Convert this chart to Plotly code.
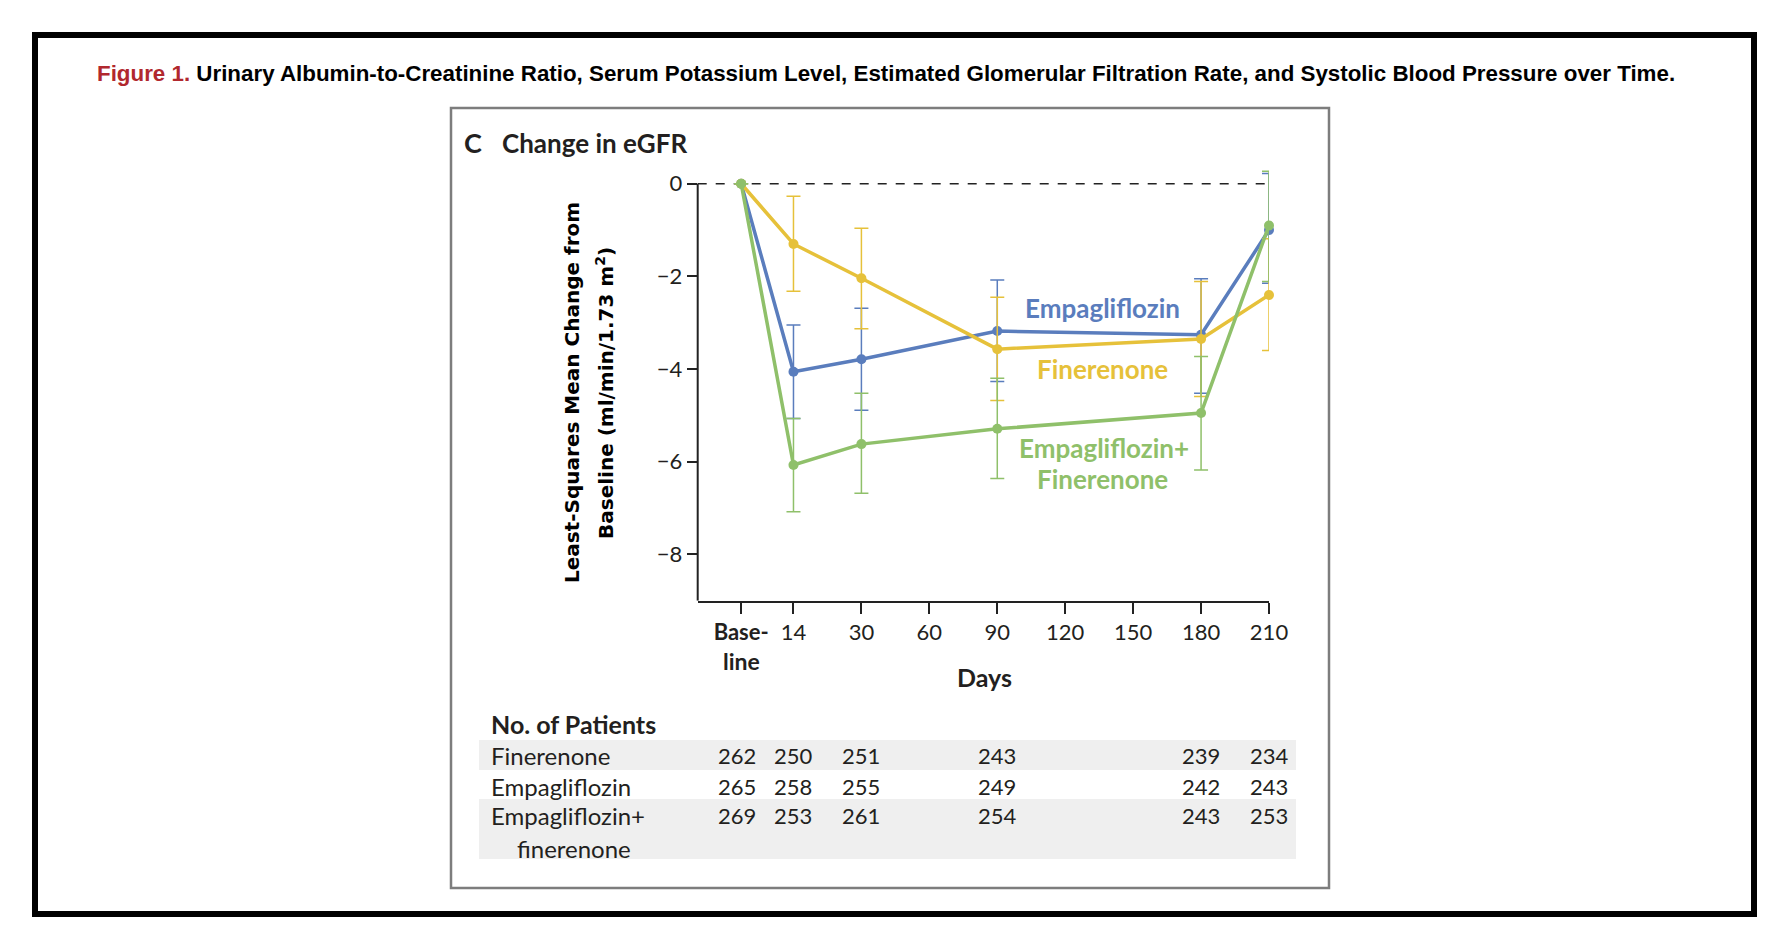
import plotly.graph_objects as go

# ---------------- data ----------------
visit_labels = ["Baseline", "14", "30", "90", "180", "210"]
axis_tick_labels = ["Base-", "14", "30", "60", "90", "120", "150", "180", "210"]

fin_mean = [0, -1.30, -2.04, -3.57, -3.35, -2.40]
fin_upper = [0, -0.27, -0.96, -2.45, -2.11, -1.19]
fin_lower = [0, -2.32, -3.13, -4.68, -4.59, -3.60]

emp_mean = [0, -4.06, -3.79, -3.18, -3.26, -1.00]
emp_upper = [0, -3.05, -2.69, -2.08, -2.05, 0.22]
emp_lower = [0, -5.07, -4.89, -4.27, -4.52, -2.15]

combo_mean = [0, -6.07, -5.62, -5.29, -4.95, -0.90]
combo_upper = [0, -5.07, -4.52, -4.20, -3.73, 0.27]
combo_lower = [0, -7.08, -6.68, -6.36, -6.18, -2.11]

fin_n = [262, 250, 251, 243, 239, 234]
emp_n = [265, 258, 255, 249, 242, 243]
combo_n = [269, 253, 261, 254, 243, 253]

y_ticks = [0, -2, -4, -6, -8]

# ---------------- layout helpers ----------------
W, H = 1766, 930
# axis position of each tick label (baseline is closer to day 14)
tick_pos = {"Base-": 0, "14": 0.77, "30": 1.77, "60": 2.77, "90": 3.77,
            "120": 4.77, "150": 5.77, "180": 6.77, "210": 7.77}
visit_pos_map = {"Baseline": 0, "14": 0.77, "30": 1.77, "90": 3.77,
                 "180": 6.77, "210": 7.77}
visit_x = [visit_pos_map[v] for v in visit_labels]


def px(x):
    return x / W


def py(y):
    return 1 - y / H


BLUE = "#5a7dbd"
YELLOW = "#e6c13a"
GREEN = "#8fc06a"
INK = "#231f20"
FONT = "Lato"

fig = go.Figure()


def add_series(mean, upper, lower, color, name):
    fig.add_trace(go.Scatter(
        x=visit_x, y=mean, mode="lines+markers", name=name,
        line=dict(color=color, width=3.5),
        marker=dict(color=color, size=10),
        error_y=dict(type="data", symmetric=False,
                     array=[u - m for u, m in zip(upper, mean)],
                     arrayminus=[m - l for m, l in zip(mean, lower)],
                     color=color, thickness=1.5, width=7),
        showlegend=False, cliponaxis=False,
    ))


add_series(emp_mean, emp_upper, emp_lower, BLUE, "Empagliflozin")
add_series(fin_mean, fin_upper, fin_lower, YELLOW, "Finerenone")
add_series(combo_mean, combo_upper, combo_lower, GREEN, "Empagliflozin+Finerenone")

shapes = []
# outer black frame
shapes.append(dict(type="rect", xref="paper", yref="paper",
                   x0=px(27), x1=px(1746), y0=py(27), y1=py(906),
                   line=dict(color="black", width=6), layer="below"))
# panel frame
shapes.append(dict(type="rect", xref="paper", yref="paper",
                   x0=px(443), x1=px(1321), y0=py(100), y1=py(880),
                   line=dict(color="#7d7d7d", width=2.5), layer="below"))
# table row shading
shapes.append(dict(type="rect", xref="paper", yref="paper",
                   x0=px(471), x1=px(1288), y0=py(732), y1=py(762),
                   fillcolor="#efefef", line=dict(width=0), layer="below"))
shapes.append(dict(type="rect", xref="paper", yref="paper",
                   x0=px(471), x1=px(1288), y0=py(791), y1=py(851),
                   fillcolor="#efefef", line=dict(width=0), layer="below"))
# dashed zero reference
shapes.append(dict(type="line", xref="x domain", yref="y",
                   x0=0, x1=1, y0=0, y1=0,
                   line=dict(color="#222222", width=1.6, dash="dash"), layer="below"))
# y axis line (from 0 down to the bottom of the axis)
shapes.append(dict(type="line", xref="x domain", yref="y",
                   x0=0, x1=0, y0=-9.0, y1=0,
                   line=dict(color="#222222", width=2)))

annotations = []


def ann(text, x, y, size, color=INK, font=FONT, xanchor="center",
        yanchor="middle", textangle=0, xref="paper", yref="paper"):
    annotations.append(dict(
        text=text, x=x if xref != "paper" else px(x),
        y=y if yref != "paper" else py(y),
        xref=xref, yref=yref, showarrow=False,
        xanchor=xanchor, yanchor=yanchor, textangle=textangle,
        font=dict(family=font, size=size, color=color)))


# figure title
ann("<b><span style='color:#b1282e'>Figure 1.</span> Urinary Albumin-to-Creatinine Ratio, "
    "Serum Potassium Level, Estimated Glomerular Filtration Rate, and Systolic Blood "
    "Pressure over Time.</b>", 87, 66, 22.35, color="black",
    font="Liberation Sans", xanchor="left")

# panel title
ann("<b>C</b>", 454, 135, 27, xanchor="left")
ann("<b>Change in eGFR</b>", 492, 135, 26, xanchor="left")

# y-axis title (two lines)
ann("<b>Least-Squares Mean Change from</b>", 564, 385, 20,
    font="DejaVu Sans", textangle=-90, color="black")
ann("<b>Baseline (ml/min/1.73 m<sup>2</sup>)</b>", 597, 385, 20,
    font="DejaVu Sans", textangle=-90, color="black")

# second line of baseline tick label and axis title
ann("<b>line</b>", tick_pos["Base-"], 653, 23, xref="x")
ann("<b>Days</b>", 976, 669, 25)

# series labels
ann("<b>Empagliflozin</b>", 1094, 300, 26, color=BLUE)
ann("<b>Finerenone</b>", 1094, 361, 26, color=YELLOW)
ann("<b>Empagliflozin+</b>", 1096, 440, 26, color=GREEN)
ann("<b>Finerenone</b>", 1094, 471, 26, color=GREEN)

# number at risk table
ann("<b>No. of Patients</b>", 481, 716, 25, xanchor="left")
row_y = [747, 778, 807]
row_names = ["Finerenone", "Empagliflozin", "Empagliflozin+"]
for name, yy in zip(row_names, row_y):
    ann(name, 481, yy, 24, xanchor="left")
ann("finerenone", 507, 840, 24, xanchor="left")
for counts, yy in zip([fin_n, emp_n, combo_n], row_y):
    for xv, n in zip(visit_x, counts):
        annotations.append(dict(
            text=str(n), x=xv, y=py(yy), xref="x", yref="paper",
            showarrow=False, xanchor="center", yanchor="middle",
            xshift=-4 if xv == 0 else 0,
            font=dict(family=FONT, size=22, color=INK)))

x_ticktext = ["<b>Base-</b>" if t == "Base-" else t for t in axis_tick_labels]

fig.update_layout(
    width=W, height=H, autosize=False,
    margin=dict(l=0, r=0, t=0, b=0),
    paper_bgcolor="white", plot_bgcolor="rgba(0,0,0,0)",
    shapes=shapes, annotations=annotations,
    xaxis=dict(domain=[px(689.7), px(1261)], range=[-0.64, 7.77],
               tickvals=[tick_pos[t] for t in axis_tick_labels],
               ticktext=x_ticktext, ticks="outside", ticklen=11,
               tickwidth=1.5, tickcolor="#222222",
               showline=True, linecolor="#222222", linewidth=2,
               showgrid=False, zeroline=False, automargin=False,
               tickfont=dict(family=FONT, size=22, color=INK)),
    yaxis=dict(domain=[py(592.7), py(157.2)], range=[-9.0, 0.4],
               tickvals=y_ticks,
               ticktext=[("−" + str(-v)) if v < 0 else str(v) for v in y_ticks],
               ticks="outside", ticklen=10, tickwidth=1.5, tickcolor="#222222",
               showline=False, showgrid=False, zeroline=False, automargin=False,
               tickfont=dict(family=FONT, size=22, color=INK)),
)

fig.write_html("out.html")
